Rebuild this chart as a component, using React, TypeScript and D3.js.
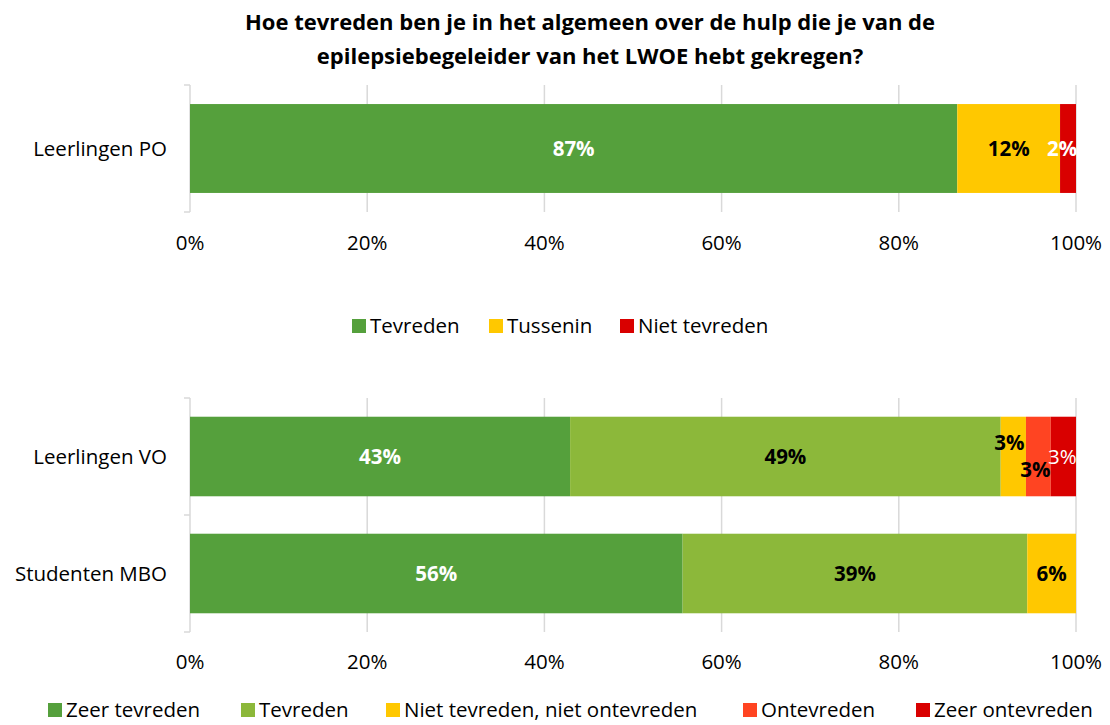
import React from "react";
import * as d3 from "d3";

const title = [
  "Hoe tevreden ben je in het algemeen over de hulp die je van de",
  "epilepsiebegeleider van het LWOE hebt gekregen?",
];

const topCategories = ["Leerlingen PO"];
const topSeries = ["Tevreden", "Tussenin", "Niet tevreden"];
const topValues = [[86.6, 11.6, 1.8]];
const topLabels = [["87%", "12%", "2%"]];

const bottomCategories = ["Leerlingen VO", "Studenten MBO"];
const bottomSeries = [
  "Zeer tevreden",
  "Tevreden",
  "Niet tevreden, niet ontevreden",
  "Ontevreden",
  "Zeer ontevreden",
];
const bottomValues = [
  [42.9, 48.6, 2.85, 2.8, 2.85],
  [55.6, 38.9, 5.5, 0, 0],
];
const bottomLabels = [
  ["43%", "49%", "3%", "3%", "3%"],
  ["56%", "39%", "6%", "", ""],
];
const tickValues = [0, 20, 40, 60, 80, 100];

const FONT = "'Open Sans', 'Noto Sans', sans-serif";
const FS = 20.5;
const topColors = ["#55A03C", "#FFC800", "#D90000"];
const bottomColors = ["#55A03C", "#8CB83A", "#FFC800", "#FF4422", "#D90000"];
const topLabelStyle = [
  [
    { fill: "#fff", weight: 700, dx: 0, dy: 0 },
    { fill: "#000", weight: 700, dx: 0, dy: 0 },
    { fill: "#fff", weight: 700, dx: -6, dy: 0 },
  ],
];
const bottomLabelStyle = [
  [
    { fill: "#fff", weight: 700, dx: 0, dy: 0 },
    { fill: "#000", weight: 700, dx: 0, dy: 0 },
    { fill: "#000", weight: 700, dx: -4, dy: -14 },
    { fill: "#000", weight: 700, dx: -3, dy: 13 },
    { fill: "#fff", weight: 400, dx: -1, dy: 0 },
  ],
  [
    { fill: "#fff", weight: 700, dx: 0, dy: 0 },
    { fill: "#000", weight: 700, dx: 0, dy: 0 },
    { fill: "#000", weight: 700, dx: 0, dy: 0 },
    { fill: "#000", weight: 700, dx: 0, dy: 0 },
    { fill: "#fff", weight: 400, dx: 0, dy: 0 },
  ],
];

const x = d3.scaleLinear().domain([0, 100]).range([190, 1076]);

function Panel({
  categories,
  values,
  labels,
  colors,
  styles,
  y0,
  y1,
  pad,
  tickY,
}: any) {
  const y = d3
    .scaleBand<string>()
    .domain(categories)
    .range([y0, y1])
    .paddingInner(pad)
    .paddingOuter(pad / 2);
  const bands = categories.map((c: string) => y(c) as number);
  const step = (y1 - y0) / categories.length;
  return (
    <g>
      {tickValues.slice(1).map((t) => (
        <line key={t} x1={x(t)} x2={x(t)} y1={y0} y2={y1} stroke="#d9d9d9" strokeWidth={1.5} />
      ))}
      <line x1={x(0)} x2={x(0)} y1={y0} y2={y1} stroke="#d9d9d9" strokeWidth={1.5} />
      {d3.range(categories.length + 1).map((i) => (
        <line key={i} x1={x(0) - 6} x2={x(0)} y1={y0 + i * step} y2={y0 + i * step} stroke="#d9d9d9" strokeWidth={1.5} />
      ))}
      {categories.map((c: string, i: number) => {
        const row = values[i];
        let acc = 0;
        return (
          <g key={c}>
            <text x={167} y={bands[i] + y.bandwidth() / 2} dy="0.35em" textAnchor="end" fontSize={FS} fontFamily={FONT} fill="#000">
              {c}
            </text>
            {row.map((v: number, j: number) => {
              const s = acc;
              acc += v;
              if (v <= 0) return null;
              return (
                <rect key={j} x={x(s)} width={x(acc) - x(s)} y={bands[i]} height={y.bandwidth()} fill={colors[j]} />
              );
            })}
          </g>
        );
      })}
      {categories.map((c: string, i: number) => {
        const row = values[i];
        let acc = 0;
        return (
          <g key={c + "l"}>
            {row.map((v: number, j: number) => {
              const s = acc;
              acc += v;
              if (v <= 0 || !labels[i][j]) return null;
              const st = styles[i][j];
              return (
                <text
                  key={j}
                  x={(x(s) + x(acc)) / 2 + st.dx}
                  y={bands[i] + y.bandwidth() / 2 + st.dy}
                  dy="0.35em"
                  textAnchor="middle"
                  fontSize={FS}
                  fontWeight={st.weight}
                  fontFamily={FONT}
                  fill={st.fill}
                >
                  {labels[i][j]}
                </text>
              );
            })}
          </g>
        );
      })}
      {tickValues.map((t) => (
        <text key={t} x={x(t)} y={tickY} dy="0.35em" textAnchor="middle" fontSize={FS} fontFamily={FONT} fill="#000">
          {t}%
        </text>
      ))}
    </g>
  );
}

function Legend({ items, colors, xs, y }: any) {
  return (
    <g>
      {items.map((it: string, i: number) => (
        <g key={it}>
          <rect x={xs[i]} y={y - 7} width={14} height={14} fill={colors[i]} />
          <text x={xs[i] + 18} y={y} dy="0.35em" fontSize={FS} fontFamily={FONT} fill="#000">
            {it}
          </text>
        </g>
      ))}
    </g>
  );
}

export default function App() {
  return (
    <svg width={1110} height={725} style={{ position: "absolute", left: 0, top: 0 }}>
      <rect width={1110} height={725} fill="#fff" />
      {title.map((t, i) => (
        <text key={i} x={590} y={22 + i * 34} dy="0.35em" textAnchor="middle" fontSize={22} fontWeight={700} fontFamily={FONT} fill="#000">
          {t}
        </text>
      ))}
      <Panel categories={topCategories} values={topValues} labels={topLabels} colors={topColors} styles={topLabelStyle} y0={85} y1={212} pad={0.3} tickY={243} />
      <Legend items={topSeries} colors={topColors} xs={[352, 489, 620]} y={326} />
      <Panel categories={bottomCategories} values={bottomValues} labels={bottomLabels} colors={bottomColors} styles={bottomLabelStyle} y0={398} y1={632} pad={0.32} tickY={662} />
      <Legend items={bottomSeries} colors={bottomColors} xs={[48, 241, 386, 743, 916]} y={710} />
    </svg>
  );
}
